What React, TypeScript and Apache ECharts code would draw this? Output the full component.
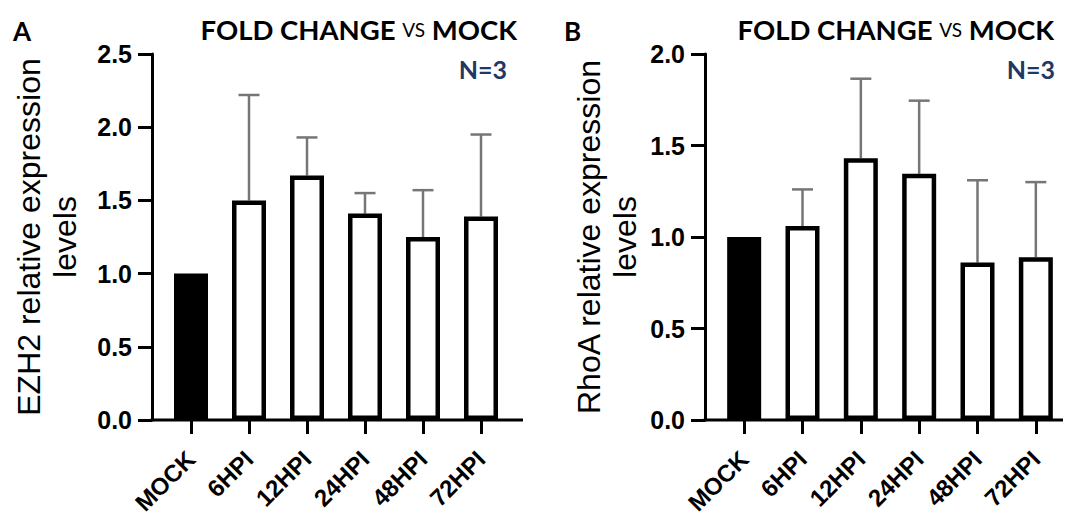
import React, { useEffect, useRef } from "react";
import * as echarts from "echarts";

const categories = ["MOCK", "6HPI", "12HPI", "24HPI", "48HPI", "72HPI"];
const ezh2Mean = [1.0, 1.5, 1.67, 1.41, 1.25, 1.39];
const ezh2Sd = [0, 0.72, 0.26, 0.14, 0.32, 0.56];
const rhoaMean = [1.0, 1.06, 1.43, 1.345, 0.86, 0.89];
const rhoaSd = [0, 0.2, 0.435, 0.4, 0.45, 0.41];
const ezh2Axis = { min: 0, max: 2.5, interval: 0.5 };
const rhoaAxis = { min: 0, max: 2.0, interval: 0.5 };
const ezh2Name = "EZH2 relative expression\nlevels";
const rhoaName = "RhoA relative expression\nlevels";
const panelLetters = ["A", "B"];
const titleText = "{b|FOLD CHANGE }{s|VS}{b| MOCK}";
const nText = "N=3";

const AX = "'Liberation Sans', Arial, Helvetica, sans-serif";
const TF = "Lato, 'Open Sans', sans-serif";

function xAxisCfg(gi: number) {
  return {
    type: "category",
    gridIndex: gi,
    data: categories,
    axisLine: { show: false },
    axisTick: { show: true, alignWithLabel: true, length: 14, lineStyle: { color: "#000", width: 3 } },
    axisLabel: {
      rotate: 45,
      margin: 18,
      align: "right",
      verticalAlign: "top",
      padding: [0, 12, 0, 0],
      color: "#000",
      fontFamily: AX,
      fontWeight: "bold",
      fontSize: 24,
      interval: 0,
    },
  };
}

function yAxisCfg(gi: number, ax: any, name: string, gap: number) {
  return {
    type: "value",
    gridIndex: gi,
    min: ax.min,
    max: ax.max,
    interval: ax.interval,
    offset: 10,
    name,
    nameLocation: "middle",
    nameRotate: 90,
    nameGap: gap,
    nameTextStyle: { color: "#000", fontFamily: AX, fontSize: 32, lineHeight: 36, align: "center" },
    splitLine: { show: false },
    axisLine: { show: true, lineStyle: { color: "#000", width: 3 } },
    axisTick: { show: true, length: 14, lineStyle: { color: "#000", width: 3 } },
    axisLabel: {
      margin: 20,
      color: "#000",
      fontFamily: AX,
      fontWeight: "bold",
      fontSize: 25,
      formatter: (v: number) => v.toFixed(1),
    },
  };
}

function barSeries(gi: number, means: number[]) {
  return {
    type: "bar",
    xAxisIndex: gi,
    yAxisIndex: gi,
    barWidth: 34,
    z: 3,
    data: means.map((m, i) => ({
      value: m,
      itemStyle: i === 0 ? { color: "#000", borderColor: "#000", borderWidth: 4.5 } : undefined,
    })),
    itemStyle: { color: "#fff", borderColor: "#000", borderWidth: 4.5 },
  };
}

function errSeries(gi: number, means: number[], sds: number[]) {
  return {
    type: "custom",
    xAxisIndex: gi,
    yAxisIndex: gi,
    z: 1,
    clip: false,
    encode: { x: 0, y: 1 },
    data: means.map((m, i) => [i, m, sds[i]]),
    renderItem: (params: any, api: any) => {
      const i = api.value(0);
      const m = api.value(1);
      const sd = api.value(2);
      if (!sd) return null;
      const base = api.coord([i, m]);
      const top = api.coord([i, m + sd]);
      const st = { stroke: "#767676", lineWidth: 2.5 };
      return {
        type: "group",
        children: [
          { type: "line", shape: { x1: base[0], y1: base[1], x2: top[0], y2: top[1] }, style: st },
          { type: "line", shape: { x1: top[0] - 10.5, y1: top[1], x2: top[0] + 10.5, y2: top[1] }, style: st },
        ],
      };
    },
  };
}

export default function App() {
  const ref = useRef<HTMLDivElement>(null);
  useEffect(() => {
    if (!ref.current) return;
    const chart = echarts.init(ref.current, null, { renderer: "svg" });
    const richStyle = {
      b: { fontFamily: TF, fontWeight: "bold", fontSize: 27.5, fill: "#000", color: "#000" },
      s: { fontFamily: TF, fontWeight: "normal", fontSize: 19, fill: "#000", color: "#000" },
    };
    chart.setOption({
      animation: false,
      backgroundColor: "#fff",
      grid: [
        { left: 162, width: 348, top: 54, height: 366, outerBoundsMode: "none", containLabel: false },
        { left: 715, width: 350, top: 54, height: 366, outerBoundsMode: "none", containLabel: false },
      ],
      xAxis: [xAxisCfg(0), xAxisCfg(1)],
      yAxis: [yAxisCfg(0, ezh2Axis, ezh2Name, 69), yAxisCfg(1, rhoaAxis, rhoaName, 62)],
      series: [
        barSeries(0, ezh2Mean),
        errSeries(0, ezh2Mean, ezh2Sd),
        barSeries(1, rhoaMean),
        errSeries(1, rhoaMean, rhoaSd),
      ],
      graphic: [
        { type: "line", shape: { x1: 150.5, y1: 420, x2: 523, y2: 420 }, style: { stroke: "#000", lineWidth: 3 }, z: 10 },
        { type: "line", shape: { x1: 703.5, y1: 420, x2: 1063, y2: 420 }, style: { stroke: "#000", lineWidth: 3 }, z: 10 },
        { type: "text", x: 13, y: 31, style: { text: panelLetters[0], font: `bold 26px ${TF}`, fill: "#000", verticalAlign: "middle" } },
        { type: "text", x: 564, y: 31, style: { text: panelLetters[1], font: `bold 26px ${TF}`, fill: "#000", verticalAlign: "middle" } },
        { type: "text", x: 517, y: 29, style: { text: titleText, rich: richStyle, align: "right", verticalAlign: "middle" } },
        { type: "text", x: 1054, y: 29, style: { text: titleText, rich: richStyle, align: "right", verticalAlign: "middle" } },
        { type: "text", x: 507, y: 69, style: { text: nText, font: `bold 25px ${TF}`, fill: "#1f3864", align: "right", verticalAlign: "middle" } },
        { type: "text", x: 1055, y: 69, style: { text: nText, font: `bold 25px ${TF}`, fill: "#1f3864", align: "right", verticalAlign: "middle" } },
      ],
    });
    return () => chart.dispose();
  }, []);
  return (
    <div
      ref={ref}
      style={{ position: "fixed", left: 0, top: 0, width: 1067, height: 517, background: "#fff" }}
    />
  );
}
